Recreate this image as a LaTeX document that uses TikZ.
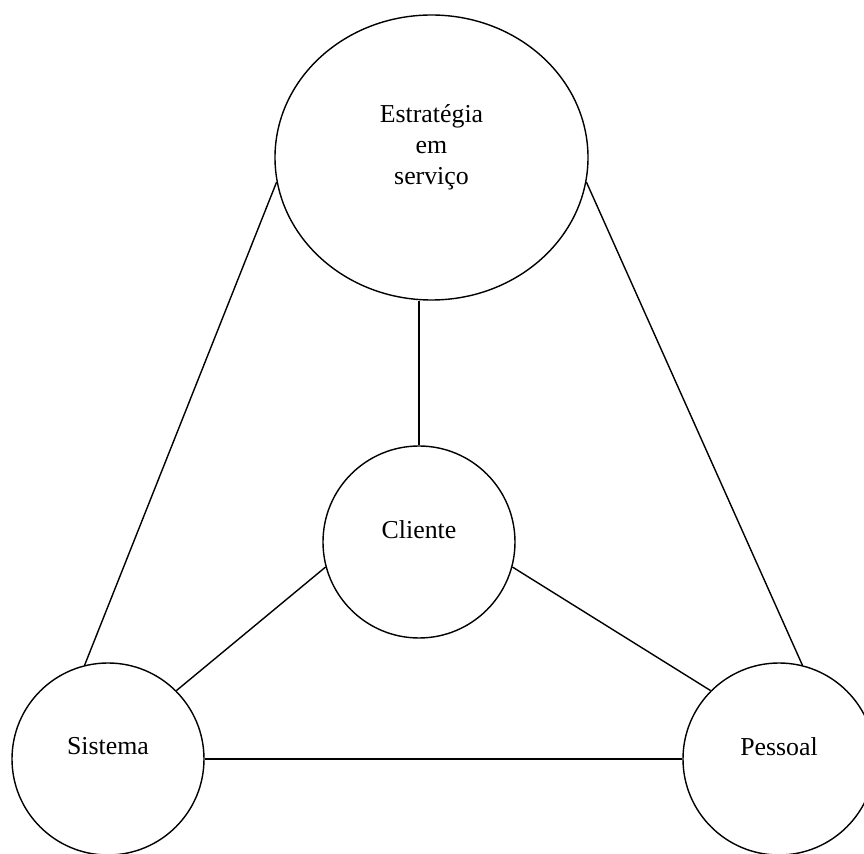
\documentclass[tikz,border=0pt]{standalone}
\usepackage{fontspec}
\setmainfont{Liberation Serif}
\usetikzlibrary{shapes.geometric}

\begin{document}
\begin{tikzpicture}[line width=0.8pt]
	\tikzstyle{every node}=[circle,draw,inner sep=0pt,minimum size=3.84cm]
	\tikzstyle{every label}=[draw=none,minimum size=0pt,align=center,font=\fontsize{14.7}{17.6}\selectfont]
	%\tikzstyle{link}=[thin]
	\useasboundingbox (0,0) rectangle (17.28,17.08);
	\node[ellipse,minimum width=6.26cm,minimum height=5.70cm,
		label={[yshift=0.21cm]center:Estratégia\\em\\serviço}] (top) at (8.63,13.93) {};
	\node[label={[yshift=0.25cm]center:Cliente}] (cli) at (8.38,6.24) {};
	\node[label={[yshift=0.25cm]center:Sistema}] (sis) at (2.16,1.90) {};
	\node[label={[yshift=0.25cm]center:Pessoal}] (pes) at (15.58,1.90) {};
	\draw (top.189) -- (sis.104);
	\draw (top.351) -- (pes.76);
	\draw (cli.north) -- (cli.north |- top.south);
	\draw (cli.195) -- (sis.45);
	\draw (cli.345) -- (pes.135);
	\draw (sis.east) -- (pes.west);
\end{tikzpicture}
\end{document}
